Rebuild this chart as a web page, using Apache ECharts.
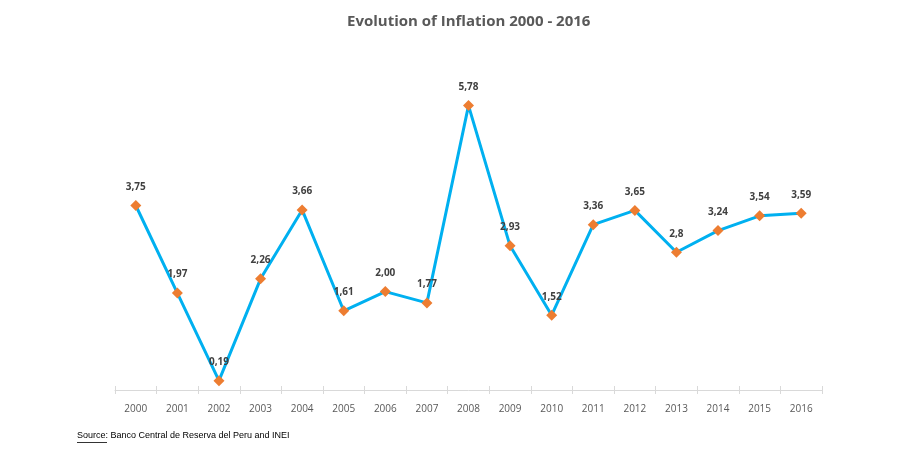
<!DOCTYPE html>
<html>
<head>
<meta charset="utf-8">
<script src="https://cdn.jsdelivr.net/npm/echarts@6/dist/echarts.min.js"></script>
<style>html,body{margin:0;padding:0;background:#fff}#c{width:900px;height:458px}</style>
</head>
<body>
<div id="c"></div>
<script>
const years = ['2000','2001','2002','2003','2004','2005','2006','2007','2008','2009','2010','2011','2012','2013','2014','2015','2016'];
const inflation = [3.75,1.97,0.19,2.26,3.66,1.61,2.00,1.77,5.78,2.93,1.52,3.36,3.65,2.8,3.24,3.54,3.59];
const labelsText = ['3,75','1,97','0,19','2,26','3,66','1,61','2,00','1,77','5,78','2,93','1,52','3,36','3,65','2,8','3,24','3,54','3,59'];

const chart = echarts.init(document.getElementById('c'));
chart.setOption({
  backgroundColor: '#fff',
  animation: false,
  title: {
    text: 'Evolution of Inflation 2000 - 2016',
    left: 342, top: 9,
    textStyle: {fontFamily: 'Open Sans', fontWeight: 'bold', fontSize: 15, color: '#595959'}
  },
  grid: {left: 115, right: 78, top: 45.6, bottom: 68},
  xAxis: [{
    type: 'category', data: years, boundaryGap: true,
    axisLine: {lineStyle: {color: '#d9d9d9', width: 1}},
    axisTick: {show: true, length: 4, lineStyle: {color: '#d9d9d9'}},
    axisLabel: {color: '#595959', fontFamily: 'Open Sans', fontSize: 10, margin: 14}
  },{
    type: 'category', data: years, boundaryGap: true, position: 'bottom',
    axisLine: {show: false},
    axisTick: {show: true, inside: true, length: 4, lineStyle: {color: '#d9d9d9'}},
    axisLabel: {show: false}
  }],
  yAxis: {
    type: 'value', min: 0, max: 7, show: false, splitLine: {show: false}
  },
  series: [{
    type: 'line', data: inflation,
    lineStyle: {color: '#00B0F0', width: 3},
    itemStyle: {color: '#ED7D31'},
    symbol: 'diamond', symbolSize: 11,
    label: {
      show: true, position: 'top', distance: 8,
      formatter: p => labelsText[p.dataIndex],
      fontFamily: 'Open Sans', fontWeight: 'bold', fontSize: 10, color: '#404040'
    },
    z: 3
  }],
  graphic: [{
    type: 'text', left: 77, top: 431,
    style: {text: 'Source: Banco Central de Reserva del Peru and INEI', fontFamily: 'Liberation Sans', fontSize: 9, fill: '#000'}
  },{
    type: 'rect', left: 77, top: 442, shape: {width: 30, height: 0.8}, style: {fill: '#000'}
  }]
});
</script>
</body>
</html>
